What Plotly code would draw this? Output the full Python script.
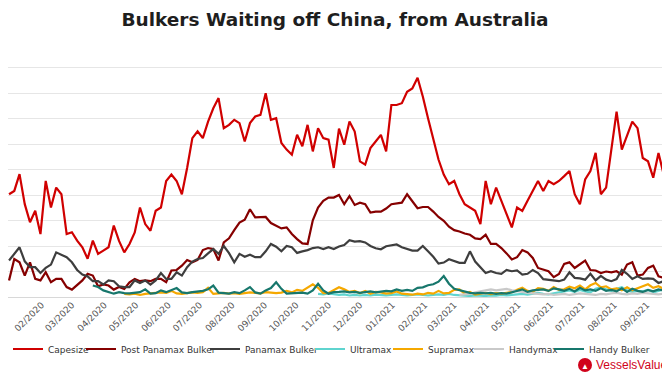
import pandas as pd
import plotly.graph_objects as go

# ---------------- data (5-day samples) ----------------
series_names = ["Capesize", "Post Panamax Bulker", "Panamax Bulker", "Ultramax",
                "Supramax", "Handymax", "Handy Bulker"]

capesize_start = "2020-01-01"
capesize = [40.3, 41.6, 48.2, 36.4, 29.3, 33.8, 24.7, 45.5, 35.1, 42.9,
            40.3, 24.7, 25.4, 22.1, 19.5, 15.0, 22.1, 16.9, 18.2, 19.5,
            28.0, 22.0, 17.5, 20.8, 25.3, 35.1, 28.6, 26.0, 33.8, 35.1,
            45.5, 48.0, 45.5, 40.3, 50.6, 62.3, 65.0, 62.3, 68.8, 74.0,
            78.0, 66.2, 67.5, 69.5, 68.2, 61.0, 68.2, 70.8, 71.4, 79.9,
            69.5, 70.1, 60.4, 57.8, 55.8, 63.6, 59.1, 67.5, 57.1, 66.2,
            62.3, 61.7, 50.6, 66.0, 59.7, 68.8, 64.9, 53.2, 51.9, 58.4,
            61.0, 63.6, 57.1, 75.3, 75.3, 76.0, 80.5, 81.8, 86.0, 78.6,
            70.1, 61.7, 53.9, 48.0, 44.2, 45.5, 40.3, 36.4, 35.1, 33.8,
            28.6, 45.5, 36.4, 42.9, 37.7, 32.5, 27.3, 35.1, 33.8, 37.7,
            41.6, 45.5, 41.6, 45.5, 44.2, 45.5, 47.4, 49.4, 40.3, 36.4,
            46.1, 49.4, 56.5, 40.3, 42.9, 58.4, 72.7, 57.8, 63.0, 68.8,
            66.2, 54.5, 53.2, 46.8, 56.5, 48.0, 71.4]

post_panamax_start = "2020-01-01"
post_panamax = [6.5, 14.9, 13.6, 8.4, 13.6, 7.1, 6.5, 9.7, 5.8, 7.1,
                7.1, 3.9, 2.9, 4.9, 6.5, 9.1, 8.4, 4.2, 4.9, 4.5,
                2.9, 3.9, 3.2, 5.8, 7.1, 6.2, 6.5, 6.2, 7.1, 7.1,
                5.8, 10.4, 10.6, 12.3, 14.5, 13.6, 14.5, 18.4, 19.2, 18.8,
                14.3, 21.4, 23.0, 26.2, 29.2, 30.3, 34.4, 31.2, 31.2, 31.4,
                29.0, 27.9, 26.9, 27.3, 24.7, 22.7, 21.0, 20.8, 30.1, 35.1,
                37.7, 39.0, 39.0, 40.0, 36.4, 39.6, 36.1, 37.0, 36.4, 33.1,
                33.5, 33.5, 34.7, 36.4, 36.6, 37.0, 40.3, 37.7, 34.8, 35.3,
                35.3, 33.5, 31.4, 29.9, 27.6, 26.2, 25.7, 24.9, 24.4, 23.0,
                22.7, 24.4, 20.8, 20.8, 19.2, 17.1, 14.7, 15.6, 18.4, 17.5,
                15.3, 11.4, 10.6, 10.1, 7.8, 9.0, 13.0, 13.6, 11.4, 12.7,
                14.3, 10.6, 10.4, 9.4, 10.0, 9.7, 10.1, 8.8, 12.7, 13.6,
                8.4, 8.8, 11.4, 12.3, 8.1, 7.5, 5.8]

panamax_start = "2020-01-01"
panamax = [14.3, 16.9, 19.5, 14.0, 11.7, 11.7, 9.4, 11.4, 12.7, 17.5,
           16.6, 15.6, 13.6, 10.6, 8.8, 8.1, 6.2, 6.2, 4.9, 6.5,
           6.2, 4.2, 3.9, 3.9, 6.5, 5.5, 6.5, 4.9, 6.5, 9.4,
           7.1, 7.1, 9.7, 8.4, 11.7, 13.9, 14.9, 15.3, 17.1, 18.8,
           16.9, 20.0, 17.2, 13.6, 16.9, 15.8, 16.6, 15.6, 15.6, 17.9,
           20.8, 19.7, 17.9, 20.0, 19.5, 17.3, 17.9, 18.4, 19.2, 19.5,
           18.8, 19.5, 18.8, 19.8, 20.4, 22.3, 21.7, 21.9, 21.4, 20.0,
           19.1, 18.7, 19.9, 20.3, 20.6, 19.5, 18.8, 18.2, 18.2, 20.0,
           17.9, 15.8, 13.1, 13.5, 14.8, 14.0, 13.4, 13.4, 17.9, 13.9,
           11.7, 9.4, 10.1, 9.4, 9.1, 10.6, 10.1, 10.4, 8.8, 9.1,
           10.6, 9.4, 7.0, 6.8, 6.5, 6.2, 6.8, 9.7, 7.5, 7.3,
           6.8, 9.1, 6.5, 8.3, 6.8, 6.2, 7.0, 10.6, 9.1, 7.1,
           8.1, 7.1, 7.3, 7.1, 5.5, 6.2, 4.9]

ultramax_start = "2020-10-22"
ultramax = [1.2, 1.0, 1.4, 1.2, 0.8, 1.0, 0.6, 0.8, 0.6, 0.8,
            0.6, 0.9, 0.8, 0.6, 0.8, 1.0, 0.8, 0.6, 0.8, 1.0,
            0.8, 0.6, 0.8, 1.0, 0.8, 1.2, 0.8, 0.6, 0.5, 0.4,
            0.6, 0.5, 0.4, 0.6, 0.5, 0.8, 0.6, 0.8, 1.0, 1.2,
            0.9, 1.4, 1.6, 1.2, 1.0, 1.4, 1.8, 2.4, 2.6, 2.0,
            2.8, 2.2, 1.8, 3.2, 3.8, 3.0, 2.4, 3.2, 3.8, 2.6,
            2.0, 2.4, 2.2, 2.8, 1.8, 2.4, 3.0, 2.6]

supramax_start = "2020-04-20"
supramax = [1.2, 1.0, 1.3, 0.8, 1.2, 1.4, 1.5, 1.8, 1.6, 2.4,
            1.4, 1.2, 1.5, 1.8, 1.6, 1.9, 3.6, 1.2, 1.4, 1.6,
            1.3, 1.5, 1.2, 1.5, 1.8, 1.6, 1.4, 1.9, 1.6, 1.5,
            1.7, 2.4, 1.8, 2.8, 2.4, 3.6, 5.0, 3.6, 1.5, 1.6,
            2.6, 3.8, 3.0, 2.0, 2.4, 1.5, 2.4, 1.3, 2.0, 1.8,
            1.3, 1.5, 2.2, 1.3, 1.1, 0.9, 1.3, 1.0, 1.6, 1.3,
            2.4, 1.4, 1.6, 2.8, 3.0, 1.3, 2.0, 0.9, 1.3, 1.6,
            1.1, 1.5, 1.3, 1.5, 1.9, 2.8, 3.6, 2.4, 2.0, 3.5,
            3.2, 2.4, 3.9, 2.8, 3.0, 4.0, 3.4, 4.5, 3.0, 4.6,
            5.5, 3.8, 4.2, 3.0, 3.4, 2.6, 3.8, 2.6, 3.4, 4.5,
            5.0, 3.6, 4.2, 3.2, 3.8]

handymax_start = "2021-03-06"
handymax = [0.8, 1.0, 1.2, 1.8, 2.2, 2.8, 3.0, 2.6, 2.8, 3.2,
            2.6, 2.4, 2.0, 1.6, 1.4, 1.2, 1.0, 1.2, 0.8, 1.0,
            1.2, 0.8, 1.0, 1.4, 1.2, 1.0, 0.8, 1.2, 1.0, 1.4,
            1.6, 1.2, 1.0, 1.4, 1.2, 1.6, 1.4, 1.2, 1.0, 1.4, 1.2]

handy_bulker_start = "2020-03-21"
handy_bulker = [4.5, 3.9, 2.6, 2.0, 1.3, 1.9, 1.5, 1.4, 1.6, 1.9,
                3.0, 1.3, 1.5, 2.6, 1.9, 2.8, 3.5, 1.8, 1.5, 1.9,
                2.2, 2.4, 3.0, 4.5, 1.7, 1.4, 1.3, 1.9, 1.5, 2.6,
                3.9, 1.8, 1.3, 2.6, 3.5, 5.8, 3.2, 1.3, 1.5, 1.8,
                1.7, 1.3, 2.6, 5.2, 2.6, 1.3, 1.9, 2.0, 2.2, 1.8,
                2.0, 1.6, 1.8, 2.2, 1.8, 2.0, 2.4, 2.2, 3.0, 2.4,
                2.8, 2.4, 3.6, 3.8, 4.6, 5.0, 6.0, 8.2, 5.2, 3.2,
                2.6, 2.0, 1.6, 1.4, 1.6, 1.4, 1.6, 1.2, 1.5, 1.3,
                1.8, 2.4, 3.0, 2.0, 2.6, 2.8, 3.0, 2.4, 3.4, 3.0,
                2.4, 3.2, 2.2, 3.6, 2.6, 3.0, 2.4, 3.4, 2.4, 2.8,
                2.2, 3.4, 2.0, 3.2, 2.4, 2.0, 2.8, 2.2, 3.0, 2.6, 3.2]

# ---------------- styling ----------------
colors = ["#d00000", "#860000", "#3e3e3e", "#5fd4cf", "#f5a800", "#c9c9c9", "#17776c"]
starts = [capesize_start, post_panamax_start, panamax_start, ultramax_start,
          supramax_start, handymax_start, handy_bulker_start]
values = [capesize, post_panamax, panamax, ultramax, supramax, handymax, handy_bulker]

FONT = "DejaVu Sans, Verdana, sans-serif"
OFF = 8                      # page body margin in the browser
W, H = 662, 372              # figure size so that it fits in the 670x380 window
ML, MR, MT, MB = 0, 0, 34, 83
PW, PH = W - ML - MR, H - MT - MB

def cx(page_px):             # container x fraction from page pixel
    return (page_px - OFF) / W

def cy(page_py):             # container y fraction from page pixel (top origin)
    return 1 - (page_py - OFF) / H

def px_(page_px):            # paper x fraction from page pixel
    return (page_px - OFF - ML) / PW

def py_(page_py):            # paper y fraction from page pixel
    return (H - MB - (page_py - OFF)) / PH

# legend text start positions (page px) in the reference
legend_text_px = [48, 121, 245, 350, 428, 509, 589]
legend_names = ["legend", "legend2", "legend3", "legend4", "legend5", "legend6", "legend7"]

fig = go.Figure()
for i, (name, start, vals, col) in enumerate(zip(series_names, starts, values, colors)):
    dates = pd.date_range(start, periods=len(vals), freq="5D")
    fig.add_trace(go.Scatter(
        x=dates, y=vals, mode="lines", name=name,
        line=dict(color=col, width=2.2),
        legend=legend_names[i],
    ))

layout_legends = {}
for i, ln in enumerate(legend_names):
    layout_legends[ln] = dict(
        xref="container", yref="container",
        x=cx(legend_text_px[i] - 40), xanchor="left",
        y=cy(349), yanchor="middle",
        orientation="h", bgcolor="rgba(0,0,0,0)", borderwidth=0,
        font=dict(family=FONT, size=9, color="#333333"),
        itemwidth=30,
    )

fig.update_layout(
    width=W, height=H,
    margin=dict(l=ML, r=MR, t=MT, b=MB, pad=0, autoexpand=False),
    paper_bgcolor="white", plot_bgcolor="white",
    title=dict(text="<b>Bulkers Waiting off China, from Australia</b>",
               x=cx(335), xref="container", xanchor="center",
               y=cy(20), yref="container", yanchor="middle",
               font=dict(family=FONT, size=18.5, color="#1e1e1e")),
    showlegend=True,
    xaxis=dict(type="date", range=["2019-12-31", "2021-09-23"],
               tick0="2020-01-01", dtick="M1", tickformat="%m/%Y", tickangle=-45,
               tickfont=dict(family=FONT, size=9, color="#555555"),
               showgrid=False, zeroline=False, showline=False, ticks="",
               automargin=False),
    yaxis=dict(range=[0, 100], dtick=10, showticklabels=False,
               showgrid=True, gridcolor="#e6e6e6", gridwidth=1,
               zeroline=True, zerolinecolor="#d8d8d8", zerolinewidth=1,
               fixedrange=True, automargin=False),
    **layout_legends,
)

# logo (bottom right)
fig.add_shape(type="circle", xref="paper", yref="paper",
              x0=px_(578), x1=px_(592), y0=py_(372), y1=py_(358),
              fillcolor="#d0021b", line=dict(width=0))
fig.add_annotation(xref="paper", yref="paper", x=px_(585), y=py_(365.5),
                   text="▲", showarrow=False, font=dict(size=8, color="white"),
                   xanchor="center", yanchor="middle")
fig.add_annotation(xref="paper", yref="paper", x=px_(594), y=py_(365),
                   text="VesselsValue", showarrow=False, xanchor="left", yanchor="middle",
                   font=dict(family="Liberation Sans, Arial", size=12, color="#d0021b"))

fig.write_html("out.html")
